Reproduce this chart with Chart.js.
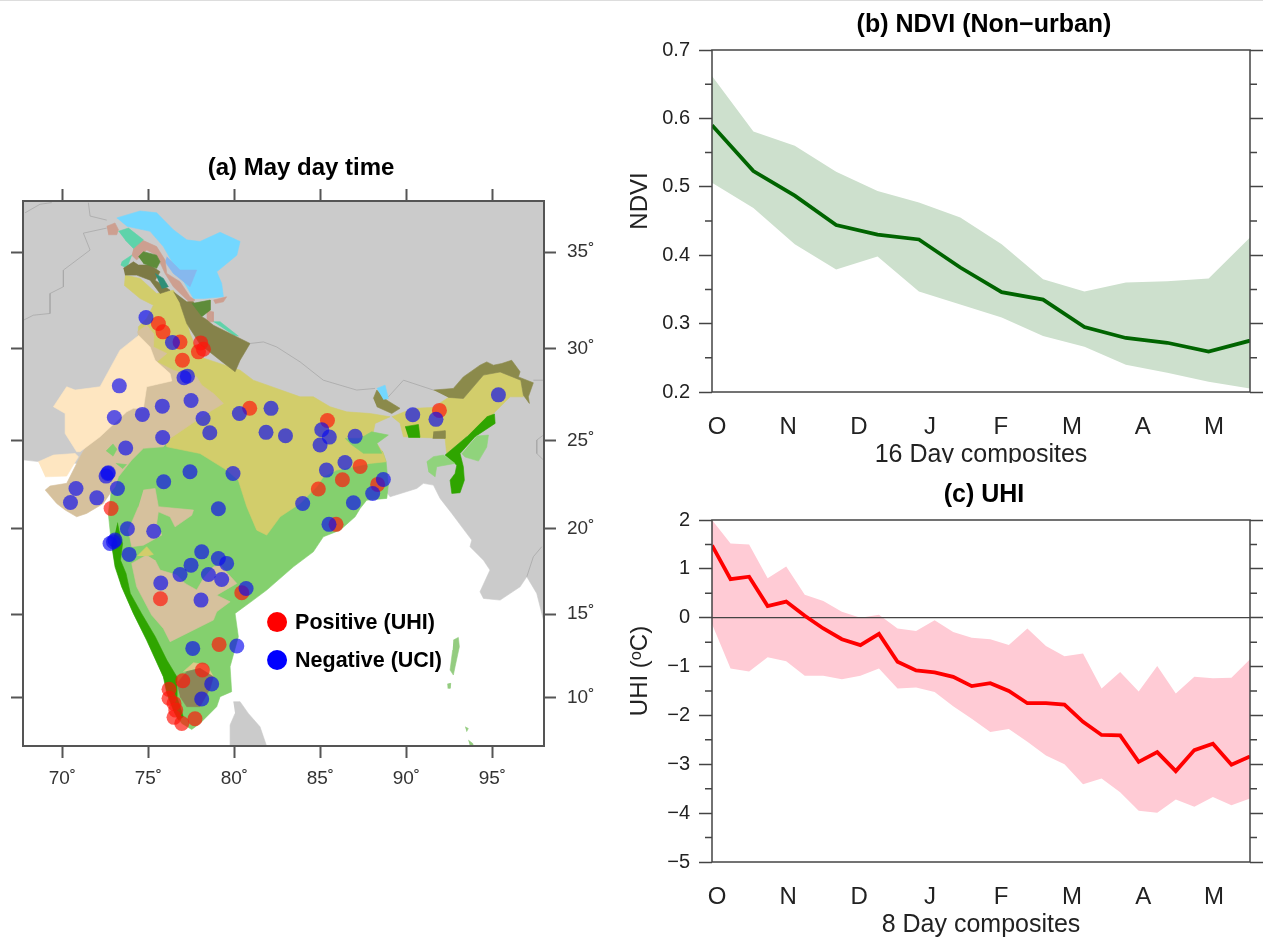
<!DOCTYPE html>
<html>
<head>
<meta charset="utf-8">
<title>UHI over India</title>
<script src="https://cdn.jsdelivr.net/npm/chart.js@4/dist/chart.umd.js"></script>
<style>
  html, body { margin: 0; padding: 0; background: #fff; overflow: hidden; width: 1263px; height: 937px; }
  body::before { content: ''; position: absolute; left: 0; top: 0; width: 1263px; height: 1px; background: #ddd; }
  canvas { position: absolute; filter: blur(0.4px); }
</style>
</head>
<body>
<canvas id="mapChart" style="left:0;top:150px" width="602" height="640"></canvas>
<canvas id="ndviChart" style="left:620px;top:0" width="728" height="463"></canvas>
<canvas id="uhiChart" style="left:620px;top:470px" width="728" height="467"></canvas>
<script>
// (b) NDVI, 16 day composites
const ndviMean = [0.590, 0.523, 0.487, 0.444, 0.430, 0.423, 0.382, 0.346, 0.335, 0.295, 0.279, 0.272, 0.259, 0.275];
const ndviUpper = [0.662, 0.581, 0.560, 0.522, 0.494, 0.477, 0.455, 0.416, 0.365, 0.347, 0.360, 0.362, 0.366, 0.426];
const ndviLower = [0.506, 0.469, 0.416, 0.379, 0.398, 0.347, 0.328, 0.309, 0.282, 0.266, 0.240, 0.228, 0.215, 0.205];
const ndviMonthAt = [0.12, 1.84, 3.55, 5.27, 6.98, 8.70, 10.41, 12.13];
const ndviTicks = [0.2, 0.3, 0.4, 0.5, 0.6, 0.7];
const ndviMinor = [0.25, 0.35, 0.45, 0.55, 0.65];

// (c) UHI, 8 day composites
const uhiMean = [1.48, 0.79, 0.84, 0.24, 0.33, 0.04, -0.22, -0.44, -0.56, -0.33, -0.90, -1.08, -1.12, -1.21, -1.40, -1.34, -1.50, -1.75, -1.75, -1.78, -2.13, -2.40, -2.41, -2.95, -2.75, -3.14, -2.71, -2.58, -3.01, -2.84];
const uhiUpper = [2.00, 1.52, 1.50, 0.81, 1.05, 0.47, 0.34, 0.12, 0.00, 0.06, -0.22, -0.27, -0.05, -0.29, -0.41, -0.44, -0.56, -0.22, -0.58, -0.79, -0.73, -1.45, -1.11, -1.51, -0.99, -1.55, -1.21, -1.24, -1.23, -0.85];
const uhiLower = [-0.13, -1.04, -1.10, -0.81, -0.89, -1.19, -1.19, -1.26, -1.19, -1.04, -1.45, -1.43, -1.52, -1.81, -2.07, -2.34, -2.28, -2.54, -2.82, -3.00, -3.41, -3.29, -3.57, -3.95, -3.99, -3.72, -3.87, -3.67, -3.84, -3.70];
const uhiMonthAt = [0.27, 4.10, 7.93, 11.75, 15.58, 19.41, 23.24, 27.06];
const uhiTicks = [-5, -4, -3, -2, -1, 0, 1, 2];
const uhiMinor = [-4.5, -3.5, -2.5, -1.5, -0.5, 0.5, 1.5];

const monthLabels = ['O', 'N', 'D', 'J', 'F', 'M', 'A', 'M'];

// (a) map axes
const lonTicks = [70, 75, 80, 85, 90, 95];
const latTicks = [10, 15, 20, 25, 30, 35];
const latKnots = [7.03, 10, 15, 20, 25, 30, 35, 37.51];
const projKnots = [0, 2.83, 7.67, 12.63, 17.77, 23.09, 28.72, 31.69];

// stations
const positiveLon = [75.58, 75.85, 76.84, 78.04, 78.20, 77.91, 76.98, 80.89, 85.41, 91.92, 87.31, 86.28, 88.33, 84.88, 72.83, 80.43, 75.70, 79.11, 78.14, 77.00, 76.20, 76.20, 76.49, 76.59, 76.49, 76.94, 77.71, 85.91];
const positiveLat = [31.31, 30.88, 30.36, 30.31, 29.98, 29.84, 29.38, 26.76, 26.09, 26.64, 23.53, 22.77, 22.51, 22.25, 21.15, 16.25, 15.90, 13.18, 11.64, 11.00, 10.48, 9.94, 9.63, 9.22, 8.78, 8.41, 8.69, 20.25];
const negativeLon = [74.86, 76.40, 77.07, 77.27, 73.31, 75.81, 77.48, 78.18, 80.29, 82.13, 78.57, 81.84, 82.97, 73.02, 74.65, 75.83, 73.68, 72.64, 72.67, 72.54, 77.42, 79.92, 75.89, 70.79, 72.00, 73.20, 70.47, 79.07, 73.78, 75.31, 72.97, 72.77, 73.06, 73.88, 78.10, 79.07, 79.55, 77.48, 76.84, 78.49, 79.26, 75.72, 80.68, 78.06, 77.58, 80.14, 78.68, 78.10, 85.08, 85.52, 84.98, 87.02, 90.37, 91.72, 95.35, 86.43, 85.35, 88.66, 88.04, 83.97, 86.92, 85.50];
const negativeLat = [31.62, 30.33, 28.42, 28.51, 27.98, 26.87, 27.18, 26.20, 26.47, 26.75, 25.42, 25.44, 25.25, 26.25, 26.42, 25.16, 24.57, 23.13, 23.17, 22.98, 23.23, 23.13, 22.66, 22.28, 21.75, 22.28, 21.49, 21.13, 20.00, 19.86, 19.24, 19.14, 19.34, 18.50, 18.65, 18.26, 17.97, 17.87, 17.32, 17.32, 17.03, 16.82, 16.50, 15.82, 12.94, 13.08, 10.80, 9.90, 25.58, 25.18, 24.74, 25.22, 26.40, 26.15, 27.49, 23.75, 23.32, 22.79, 22.00, 21.43, 21.47, 20.25];

// land outside India
const asiaLon = [67.7, 98.1, 98.1, 97.97, 97.58, 97.0, 96.61, 95.45, 94.48, 94.28, 94.86, 94.48, 93.70, 93.80, 93.22, 92.64, 91.96, 91.57, 90.99, 90.60, 89.05, 88.0, 71.0, 68.6, 67.7];
const asiaLat = [37.6, 37.6, 14.6, 14.64, 16.21, 17.19, 16.60, 15.82, 15.92, 16.31, 17.58, 18.16, 18.95, 19.34, 20.11, 20.87, 21.72, 22.47, 22.57, 22.28, 21.81, 23.2, 23.7, 23.8, 23.9];
const lankaLon = [79.94, 80.33, 80.81, 81.49, 81.88, 79.75, 79.75, 80.04];
const lankaLat = [9.73, 9.73, 9.02, 8.20, 7.0, 7.0, 8.31, 9.02];

// climate zones of India
const subhumidLon = [72.77, 72.67, 72.77, 72.87, 73.06, 73.45, 74.13, 74.90, 75.87, 76.26, 76.55, 76.94, 77.52, 78.0, 78.97, 79.17, 79.84, 79.75, 80.23, 80.04, 81.10, 81.88, 83.43, 84.59, 85.17, 86.14, 87.02, 87.31, 87.69, 88.86, 88.95, 88.82, 88.6, 73.0];
const subhumidLat = [21.62, 20.87, 19.92, 19.04, 17.97, 16.60, 15.04, 13.44, 11.24, 10.04, 9.02, 8.41, 8.04, 8.41, 9.43, 10.04, 10.34, 11.84, 13.64, 15.04, 15.82, 16.41, 17.77, 18.65, 19.53, 19.92, 20.68, 21.15, 21.62, 21.72, 22.47, 23.79, 24.4, 25.0];
const plainsLon = [73.64, 74.52, 75.48, 76.45, 76.94, 77.42, 78.0, 80.33, 81.10, 83.82, 84.59, 85.56, 86.53, 87.89, 89.05, 88.18, 88.08, 88.28, 88.66, 88.82, 87.89, 85.95, 85.17, 84.79, 83.82, 82.66, 81.88, 81.30, 80.72, 80.23, 79.55, 78.0, 76.07, 75.0, 74.4, 74.42, 74.90, 75.29, 74.52, 73.59];
const plainsLat = [33.81, 33.64, 32.86, 33.03, 32.34, 30.79, 29.56, 28.84, 28.29, 27.38, 27.38, 26.84, 26.56, 26.47, 26.29, 25.93, 25.47, 24.83, 24.27, 23.79, 23.70, 23.32, 22.94, 22.38, 21.43, 20.68, 19.63, 19.92, 21.25, 22.75, 23.32, 24.26, 24.64, 28.0, 30.7, 31.14, 31.57, 32.26, 32.60, 33.29];
const semiAridLon = [74.36, 74.90, 75.33, 75.29, 76.07, 75.48, 76.45, 77.81, 78.10, 78.78, 79.36, 78.39, 76.26, 75.87, 74.71, 74.03, 73.26, 73.06, 72.77, 72.38, 71.41, 70.83, 70.16, 69.67, 69.0, 69.28, 70.25, 71.03, 72.77, 74.13, 74.71];
const semiAridLat = [30.88, 31.22, 30.76, 30.10, 29.75, 29.29, 28.84, 28.47, 28.02, 27.56, 27.02, 26.47, 25.11, 24.64, 24.55, 23.89, 22.94, 22.38, 22.0, 21.43, 20.87, 20.68, 21.06, 21.43, 22.19, 22.42, 22.57, 24.08, 26.93, 27.75, 29.56];
const aridLon = [74.42, 75.10, 75.39, 76.26, 76.36, 74.90, 74.71, 74.13, 73.74, 72.19, 71.03, 70.83, 70.16, 70.16, 69.48, 70.25, 70.74, 72.19, 73.35, 74.32];
const aridLat = [30.71, 30.10, 29.38, 28.65, 28.25, 27.93, 26.75, 26.75, 26.56, 25.20, 24.36, 24.36, 25.38, 26.47, 26.84, 27.93, 27.75, 27.93, 29.93, 30.62];
const kutchLon = [68.6, 69.48, 70.74, 70.93, 70.25, 69.0];
const kutchLat = [23.79, 24.17, 24.26, 24.08, 22.98, 22.94];
const deccanNorthLon = [74.71, 75.39, 75.58, 77.62, 77.52, 76.55, 76.26, 75.58, 75.48, 75.78, 74.71, 74.03, 73.84, 74.42];
const deccanNorthLat = [22.19, 22.28, 21.25, 21.06, 20.77, 20.11, 20.68, 20.96, 20.30, 19.63, 19.04, 18.95, 19.92, 21.25];
const deccanSouthLon = [75.39, 75.68, 76.65, 77.13, 77.81, 78.20, 78.78, 79.17, 80.14, 78.97, 79.75, 78.97, 78.78, 76.26, 75.87, 75.19, 74.32, 74.03, 74.90];
const deccanSouthLat = [18.16, 17.58, 17.29, 16.80, 16.41, 17.09, 17.77, 17.87, 16.80, 16.11, 15.72, 15.14, 14.64, 13.34, 14.14, 14.94, 16.60, 17.97, 18.46];
const deccanPatchLon = [74.36, 74.90, 75.29, 74.90];
const deccanPatchLat = [18.40, 18.95, 18.50, 18.40];
const aravalliALon = [72.54, 72.94, 73.17, 72.94];
const aravalliALat = [24.4, 24.8, 24.5, 24.1];
const aravalliBLon = [73.11, 73.73, 73.50];
const aravalliBLat = [23.7, 23.63, 23.4];
const biharPatchLon = [86.43, 87.31, 87.98, 88.95, 88.28, 88.57, 87.5, 86.72];
const biharPatchLat = [25.11, 25.11, 25.47, 25.29, 24.83, 24.27, 24.27, 24.83];
const ghatsLon = [73.20, 73.35, 73.50, 73.38, 73.70, 73.95, 74.60, 75.40, 76.07, 76.65, 76.65, 77.03, 76.74, 76.45, 76.07, 75.87, 74.90, 74.13, 73.45, 73.06, 72.87, 73.06];
const ghatsLat = [20.35, 19.63, 19.14, 18.16, 17.38, 16.21, 15.04, 13.64, 12.24, 11.24, 10.04, 8.82, 8.61, 9.22, 10.24, 11.24, 13.44, 15.04, 16.60, 17.77, 19.04, 19.73];
const nilgiriTopLon = [77.03, 77.62, 78.39, 78.78, 78.0];
const nilgiriTopLat = [11.54, 12.08, 11.94, 11.24, 11.74];
const nilgiriLon = [76.65, 77.23, 78.0, 78.78, 78.59, 78.0, 77.23, 76.84];
const nilgiriLat = [10.84, 11.54, 11.74, 11.24, 10.54, 9.43, 9.43, 10.04];

// north east
const assamLon = [89.15, 90.41, 91.57, 92.44, 93.31, 94.48, 95.45, 96.65, 96.80, 96.03, 95.16, 94.57, 93.70, 92.34, 92.25, 89.83, 89.63];
const assamLat = [26.29, 26.75, 26.80, 27.35, 27.29, 28.57, 28.74, 28.29, 27.38, 27.38, 26.56, 25.93, 25.38, 24.26, 25.11, 25.20, 25.93];
const arunachalLon = [91.57, 92.73, 93.31, 94.28, 94.67, 95.06, 95.54, 96.12, 96.61, 96.51, 97.38, 97.09, 97.15, 96.80, 96.65, 95.45, 94.48, 93.31, 92.44];
const arunachalLat = [27.75, 27.84, 28.47, 29.11, 29.29, 29.11, 29.20, 29.38, 28.75, 28.47, 28.15, 27.38, 27.02, 27.47, 28.29, 28.74, 28.57, 27.29, 27.35];
const sikkimLon = [88.08, 88.28, 88.86, 89.63, 89.15, 88.28];
const sikkimLat = [27.29, 27.75, 27.20, 26.75, 26.47, 26.84];
const sikkimIceLon = [88.28, 88.76, 88.95, 88.66];
const sikkimIceLat = [27.84, 28.02, 27.29, 27.24];
const garoLon = [89.92, 90.70, 90.79, 90.12];
const garoLat = [25.75, 25.87, 25.16, 25.16];
const khasiLon = [91.57, 92.25, 92.25, 91.53];
const khasiLat = [25.47, 25.53, 25.11, 25.11];
const nagaLon = [94.67, 95.12, 95.16, 93.99, 93.12, 93.31, 93.37, 93.12, 92.64, 92.54, 92.83, 92.93, 92.25, 93.51];
const nagaLat = [26.29, 26.44, 25.93, 25.20, 24.26, 23.51, 22.75, 22.04, 22.0, 22.75, 23.13, 23.60, 24.17, 25.20];
const manipurLon = [94.09, 94.77, 94.67, 94.19, 93.41, 93.22];
const manipurLat = [25.24, 25.29, 24.62, 23.83, 24.06, 24.26];
const tripuraLon = [91.18, 91.57, 92.15, 92.83, 91.76, 91.67, 91.28];
const tripuraLat = [23.79, 24.08, 24.17, 23.70, 23.51, 22.94, 23.23];

// himalaya
const kashmirLon = [73.16, 74.52, 75.48, 76.45, 77.23, 78.0, 79.17, 80.33, 80.14, 78.97, 79.26, 79.36, 78.20, 77.62, 77.23, 76.65, 75.87, 75.10, 73.74];
const kashmirLat = [36.68, 37.02, 36.93, 36.10, 35.60, 35.52, 35.97, 35.52, 34.84, 33.98, 33.38, 32.69, 32.60, 32.60, 33.21, 34.07, 35.27, 36.02, 36.27];
const ladakhLon = [76.07, 76.84, 77.81, 77.42, 76.45, 75.97];
const ladakhLat = [34.76, 34.07, 34.07, 33.21, 33.9, 34.5];
const roseBandLon = [74.13, 74.61, 75.48, 75.97, 76.07, 76.84, 77.42, 77.71, 77.42, 76.45, 75.97, 75.48, 74.90, 74.32, 74.03];
const roseBandLat = [35.18, 35.60, 35.27, 34.59, 33.90, 33.47, 32.69, 32.52, 32.38, 33.21, 33.90, 34.84, 35.10, 34.59, 34.84];
const roseWestLon = [72.58, 73.06, 73.26, 73.16, 72.67];
const roseWestLat = [36.27, 36.43, 36.10, 35.85, 35.85];
const roseSpitiLon = [78.39, 78.78, 78.78, 78.39];
const roseSpitiLat = [32.0, 31.91, 31.40, 31.40];
const roseLahulLon = [78.78, 79.55, 79.36, 78.88];
const roseLahulLat = [32.52, 32.69, 32.43, 32.34];
const tealNorthLon = [73.26, 73.84, 74.71, 74.13, 73.64];
const tealNorthLat = [36.02, 36.18, 35.60, 35.18, 35.60];
const tealWestLon = [73.45, 74.03, 73.74, 73.39];
const tealWestLat = [34.50, 34.84, 34.16, 34.33];
const tealStripLon = [78.78, 79.17, 80.23, 79.94];
const tealStripLat = [31.40, 31.40, 30.66, 30.71];
const jammuHillsLon = [73.55, 73.84, 74.13, 74.42, 75.10, 75.68, 75.39, 76.26, 75.68, 75.10, 74.32, 73.64];
const jammuHillsLat = [34.16, 34.33, 34.50, 34.33, 34.33, 33.98, 33.55, 33.03, 32.86, 33.55, 33.81, 33.81];
const pirPanjalLon = [74.42, 74.71, 75.48, 75.68, 75.48, 74.71];
const pirPanjalLat = [34.76, 35.02, 34.84, 34.50, 34.16, 34.41];
const chenabLon = [75.39, 75.87, 76.16, 75.78];
const chenabLat = [33.90, 33.64, 33.21, 33.12];
const uttarakhandLon = [76.45, 77.23, 77.62, 78.10, 78.29, 78.78, 80.91, 80.33, 80.04, 79.17, 78.0, 77.23, 76.84];
const uttarakhandLat = [32.95, 32.43, 32.43, 31.66, 31.57, 31.22, 30.28, 29.38, 28.75, 29.38, 30.24, 31.31, 32.34];
const kinnaurLon = [77.52, 78.59, 78.59, 78.10];
const kinnaurLat = [32.34, 32.52, 32.0, 31.66];

// islands
const andamanLon = [92.73, 93.02, 93.08, 92.83, 92.73, 92.54, 92.69];
const andamanLat = [13.44, 13.60, 13.04, 11.84, 11.34, 11.64, 12.84];
const littleAndamanLon = [92.38, 92.58, 92.54, 92.40];
const littleAndamanLat = [10.80, 10.84, 10.54, 10.54];
const carNicobarLon = [93.41, 93.6, 93.5];
const carNicobarLat = [8.20, 8.10, 7.90];
const nicobarLon = [93.60, 93.86, 93.9, 93.7];
const nicobarLat = [7.39, 7.18, 7.0, 7.0];

// borders drawn on the gray land
const borderALon = [67.83, 68.70, 69.38];
const borderALat = [36.93, 37.35, 37.43];
const borderBLon = [71.51, 71.61, 72.58];
const borderBLat = [37.43, 36.77, 36.57];
const borderCLon = [72.58, 71.22, 71.61, 70.06, 70.06, 69.28, 69.28, 68.31, 67.73];
const borderCLat = [36.18, 35.93, 35.10, 34.07, 33.21, 32.86, 31.83, 31.74, 31.48];
const borderDLon = [80.91, 81.69, 82.46, 83.82, 85.17, 87.11, 88.18];
const borderDLat = [30.28, 30.36, 30.10, 29.29, 28.29, 27.75, 27.84];
const borderELon = [88.95, 89.83, 91.57];
const borderELat = [27.38, 28.29, 27.75];
const borderFLon = [97.38, 98.0];
const borderFLat = [28.29, 28.29];
const borderGLon = [97.97, 97.58, 97.58, 97.97];
const borderGLat = [25.29, 25.02, 24.26, 23.89];
const borderHLon = [97.0, 97.38, 97.87];
const borderHLat = [17.19, 18.36, 18.95];

const legendLon = [82.48, 82.48];
const legendLat = [14.52, 12.24];
const legendLabels = ['Positive (UHI)', 'Negative (UCI)'];
const legendColors = ['#ff0000', '#0000ff'];

const GRAY = '#cbcbcb', LIGHTGREEN = '#84d06e', PLAINS = '#d2cd6b', TAN = '#d6c19d', CREAM = '#fee6c1';
const GHATS = '#2fa500', OLIVE = '#8b8a4b', ROSE = '#cd9f90', TEAL = '#5fd3aa', SKY = '#73d7ff';

// painted in this order, later ones on top
const zones = [
  [asiaLon, asiaLat, GRAY], [lankaLon, lankaLat, GRAY],
  [subhumidLon, subhumidLat, LIGHTGREEN], [plainsLon, plainsLat, PLAINS],
  [semiAridLon, semiAridLat, TAN], [aridLon, aridLat, CREAM], [kutchLon, kutchLat, CREAM],
  [aravalliALon, aravalliALat, LIGHTGREEN], [aravalliBLon, aravalliBLat, LIGHTGREEN],
  [deccanNorthLon, deccanNorthLat, TAN], [deccanSouthLon, deccanSouthLat, TAN], [deccanPatchLon, deccanPatchLat, PLAINS],
  [biharPatchLon, biharPatchLat, LIGHTGREEN], [ghatsLon, ghatsLat, GHATS],
  [nilgiriTopLon, nilgiriTopLat, '#dcc98a'], [nilgiriLon, nilgiriLat, '#8d8657'],
  [assamLon, assamLat, PLAINS], [arunachalLon, arunachalLat, OLIVE], [sikkimLon, sikkimLat, OLIVE], [sikkimIceLon, sikkimIceLat, SKY],
  [garoLon, garoLat, GHATS], [khasiLon, khasiLat, OLIVE], [nagaLon, nagaLat, GHATS], [manipurLon, manipurLat, '#90d37c'], [tripuraLon, tripuraLat, '#90d37c'],
  [kashmirLon, kashmirLat, SKY], [ladakhLon, ladakhLat, '#86b8ee'], [roseBandLon, roseBandLat, ROSE], [roseWestLon, roseWestLat, ROSE],
  [roseSpitiLon, roseSpitiLat, ROSE], [roseLahulLon, roseLahulLat, ROSE],
  [tealNorthLon, tealNorthLat, TEAL], [tealWestLon, tealWestLat, TEAL], [tealStripLon, tealStripLat, TEAL],
  [jammuHillsLon, jammuHillsLat, '#7d7a45'], [pirPanjalLon, pirPanjalLat, '#5e8c3a'], [chenabLon, chenabLat, '#2f8f78'],
  [uttarakhandLon, uttarakhandLat, '#85824a'], [kinnaurLon, kinnaurLat, '#5e8c3a'],
  [andamanLon, andamanLat, '#94cc80'], [littleAndamanLon, littleAndamanLat, '#94cc80'],
  [carNicobarLon, carNicobarLat, '#94cc80'], [nicobarLon, nicobarLat, '#94cc80']
];
const borders = [
  [borderALon, borderALat], [borderBLon, borderBLat], [borderCLon, borderCLat], [borderDLon, borderDLat],
  [borderELon, borderELat], [borderFLon, borderFLat], [borderGLon, borderGLat], [borderHLon, borderHLat]
];

const FONT = '"Liberation Sans", Arial, sans-serif';
const INK = '#222';
const AXIS = '#444';

const proj = (lat) => {
  let i = 0;
  while (i < latKnots.length - 2 && lat > latKnots[i + 1]) i++;
  const t = (lat - latKnots[i]) / (latKnots[i + 1] - latKnots[i]);
  return projKnots[i] + t * (projKnots[i + 1] - projKnots[i]);
};
const lonLat = (lon, lat) => lon.map((v, i) => ({ x: v, y: proj(lat[i]) }));
const series = (vals) => vals.map((v, i) => ({ x: i, y: v }));

const mapDatasets = [];
zones.forEach((z, i) => {
  mapDatasets.push({
    data: lonLat(z[0], z[1]), showLine: true, fill: 'shape', pointRadius: 0,
    backgroundColor: z[2], borderColor: z[2], borderWidth: 0.6, order: 200 - i
  });
});
borders.forEach((b) => {
  mapDatasets.push({
    data: lonLat(b[0], b[1]), showLine: true, fill: false, pointRadius: 0,
    borderColor: '#a8a8a8', borderWidth: 0.8, order: 20
  });
});
mapDatasets.push({
  data: lonLat(positiveLon, positiveLat), pointRadius: 7.5, pointBorderWidth: 0, pointHoverRadius: 7.5,
  pointBackgroundColor: 'rgba(255,20,10,0.68)', order: 2
});
mapDatasets.push({
  data: lonLat(negativeLon, negativeLat), pointRadius: 7.5, pointBorderWidth: 0, pointHoverRadius: 7.5,
  pointBackgroundColor: 'rgba(10,10,240,0.66)', order: 1
});

const frame = (color, width) => ({
  id: 'frame',
  afterDraw(chart) {
    const { ctx, chartArea: a } = chart;
    ctx.save();
    ctx.strokeStyle = color;
    ctx.lineWidth = width;
    ctx.strokeRect(a.left, a.top, a.right - a.left, a.bottom - a.top);
    ctx.restore();
  }
});

const mapLegend = {
  id: 'mapLegend',
  afterDatasetsDraw(chart) {
    const { ctx, scales } = chart;
    ctx.save();
    legendLabels.forEach((label, i) => {
      const px = scales.x.getPixelForValue(legendLon[i]);
      const py = scales.y.getPixelForValue(proj(legendLat[i]));
      ctx.fillStyle = legendColors[i];
      ctx.beginPath();
      ctx.arc(px, py, 10, 0, Math.PI * 2);
      ctx.fill();
      ctx.fillStyle = '#000';
      ctx.font = 'bold 21.5px ' + FONT;
      ctx.textBaseline = 'middle';
      ctx.fillText(label, px + 18, py + 1);
    });
    ctx.restore();
  }
};

const lonScale = (position, height, show) => ({
  type: 'linear', position, min: 67.71, max: 98.0,
  afterBuildTicks: (s) => { s.ticks = lonTicks.map((v) => ({ value: v })); },
  afterFit: (s) => { s.height = height; },
  border: { display: false },
  grid: { drawOnChartArea: false, tickLength: 12, tickColor: '#555', tickWidth: 2 },
  ticks: { display: show, autoSkip: false, maxRotation: 0, padding: 9, color: '#333', font: { family: FONT, size: 19 }, callback: (v) => v + '˚' }
});
const latScale = (position, width, show) => ({
  type: 'linear', position, min: 0, max: 31.69,
  afterBuildTicks: (s) => { s.ticks = latTicks.map((v) => ({ value: proj(v) })); },
  afterFit: (s) => { s.width = width; },
  border: { display: false },
  grid: { drawOnChartArea: false, tickLength: 12, tickColor: '#555', tickWidth: 2 },
  ticks: { display: show, autoSkip: false, padding: 11, color: '#333', font: { family: FONT, size: 19 }, callback: (v, i) => latTicks[i] + '˚' }
});

new Chart(document.getElementById('mapChart'), {
  type: 'scatter',
  data: { datasets: mapDatasets },
  options: {
    responsive: false, animation: false, events: [],
    layout: { padding: 0 },
    plugins: {
      legend: { display: false }, tooltip: { enabled: false },
      title: { display: true, text: '(a) May day time', color: '#000', font: { family: FONT, size: 24, weight: 'bold', lineHeight: 1 }, padding: { top: 6, bottom: 9 } }
    },
    scales: {
      x: lonScale('bottom', 44, true),
      xTop: lonScale('top', 12, false),
      y: latScale('left', 23, false),
      yRight: latScale('right', 58, true)
    }
  },
  plugins: [frame('#555', 2), mapLegend]
});

// line panels share everything but the values
const linePanel = (id, opts) => {
  const minorTicks = {
    id: 'minorTicks',
    afterDraw(chart) {
      const { ctx, chartArea: a, scales } = chart;
      ctx.save();
      ctx.strokeStyle = AXIS;
      ctx.lineWidth = 1.5;
      opts.minor.forEach((v) => {
        const py = scales.y.getPixelForValue(v);
        ctx.beginPath();
        ctx.moveTo(a.left - 7, py); ctx.lineTo(a.left, py);
        ctx.moveTo(a.right, py); ctx.lineTo(a.right + 7, py);
        ctx.stroke();
      });
      ctx.fillStyle = INK;
      ctx.font = '24px ' + FONT;
      ctx.textAlign = 'center';
      ctx.textBaseline = 'middle';
      ctx.translate(20, a.top + opts.yTitleAt);
      ctx.rotate(-Math.PI / 2);
      ctx.fillText(opts.yTitle, 0, 0);
      ctx.restore();
    }
  };
  const yScale = (position, width, show) => ({
    type: 'linear', position, min: opts.ticks[0], max: opts.ticks[opts.ticks.length - 1],
    afterBuildTicks: (s) => { s.ticks = opts.ticks.map((v) => ({ value: v })); },
    afterFit: (s) => { s.width = width; },
    border: { display: false },
    grid: { drawOnChartArea: false, tickLength: 13, tickColor: AXIS, tickWidth: 1.5 },
    ticks: { display: show, padding: 9, color: INK, font: { family: FONT, size: 20 }, callback: opts.format }
  });
  new Chart(document.getElementById(id), {
    type: 'scatter',
    data: { datasets: opts.datasets },
    options: {
      responsive: false, animation: false, events: [],
      layout: { padding: 0 },
      plugins: {
        legend: { display: false }, tooltip: { enabled: false },
        title: { display: true, text: opts.title, color: '#000', font: { family: FONT, size: 25, weight: 'bold', lineHeight: 1 }, padding: { top: 13, bottom: 12 } }
      },
      scales: {
        x: {
          type: 'linear', min: 0, max: opts.n - 1,
          afterBuildTicks: (s) => { s.ticks = opts.monthAt.map((v) => ({ value: v })); },
          afterFit: (s) => { s.height = opts.xHeight; },
          border: { display: false },
          grid: { display: false },
          ticks: { autoSkip: false, maxRotation: 0, padding: 13, color: INK, font: { family: FONT, size: 24 }, callback: (v, i) => monthLabels[i] },
          title: { display: true, text: opts.xTitle, color: INK, font: { family: FONT, size: 25, lineHeight: opts.xLine }, padding: 0 }
        },
        y: yScale('left', 92, true),
        yRight: yScale('right', 98, false)
      }
    },
    plugins: [frame(AXIS, 1.5), minorTicks]
  });
};

const band = (upper, lower, color) => [
  { data: series(upper), showLine: true, pointRadius: 0, borderWidth: 0, backgroundColor: color, fill: '+1', order: 5 },
  { data: series(lower), showLine: true, pointRadius: 0, borderWidth: 0, fill: false, order: 6 }
];

linePanel('ndviChart', {
  title: '(b) NDVI (Non−urban)', xTitle: '16 Day composites', xHeight: 71, xLine: 0.6, yTitle: 'NDVI', yTitleAt: 151,
  n: ndviMean.length, monthAt: ndviMonthAt, ticks: ndviTicks, minor: ndviMinor, format: (v) => v.toFixed(1),
  datasets: [
    { data: series(ndviMean), showLine: true, pointRadius: 0, borderColor: '#006400', borderWidth: 3.8, order: 1 },
    ...band(ndviUpper, ndviLower, '#cde0cd')
  ]
});

linePanel('uhiChart', {
  title: '(c) UHI', xTitle: '8 Day composites', xHeight: 75, xLine: 0.92, yTitle: 'UHI (ᵒC)', yTitleAt: 151,
  n: uhiMean.length, monthAt: uhiMonthAt, ticks: uhiTicks, minor: uhiMinor, format: (v) => String(v).replace('-', '−'),
  datasets: [
    { data: series(uhiMean), showLine: true, pointRadius: 0, borderColor: '#ff0000', borderWidth: 3.8, order: 1 },
    { data: [{ x: 0, y: 0 }, { x: uhiMean.length - 1, y: 0 }], showLine: true, pointRadius: 0, borderColor: '#444', borderWidth: 1.2, order: 2 },
    ...band(uhiUpper, uhiLower, '#ffcbd5')
  ]
});
</script>
</body>
</html>
